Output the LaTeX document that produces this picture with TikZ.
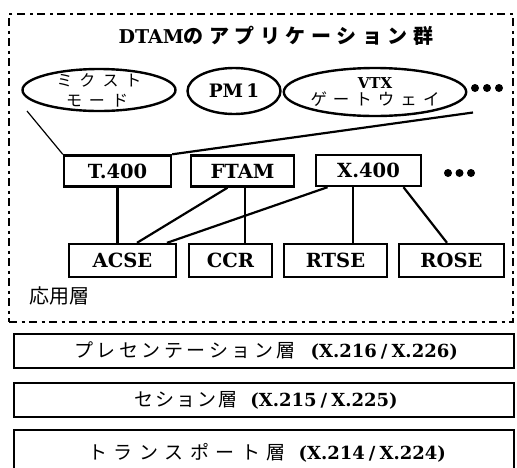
\documentclass[tikz,border=0pt]{standalone}
\usepackage{fontspec}
\usetikzlibrary{shapes.geometric,calc}
\newfontfamily\lat{DejaVu Serif}
\newfontfamily\jp{Noto Sans CJK JP}
\makeatletter
\def\jsp@end{\jsp@end}
\newcommand\jsp[2]{\def\jsp@k{#1}\jsp@a#2\jsp@end}
\def\jsp@a#1{#1\jsp@b}
\def\jsp@b#1{\ifx\jsp@end#1\else\kern\jsp@k\relax#1\expandafter\jsp@b\fi}
\makeatother
\newcommand\latf[1]{\lat\bfseries\fontsize{#1}{#1}\selectfont}
\newcommand\jpf[2]{\jp\fontsize{#1}{#2}\selectfont}
\newcommand\slsh{\kern4pt/\kern4pt}
\begin{document}
\begin{tikzpicture}[x=1pt,y=-1pt,
  line width=2.2pt,
  frame/.style={draw, line width=2.6pt, dash pattern=on 8pt off 4.5pt on 3pt off 4.5pt, minimum width=504pt, minimum height=308pt, inner sep=0pt},
  box/.style={draw, line width=2.4pt, inner sep=0pt, minimum height=31pt, font=\latf{19.5}},
  lowbox/.style={draw, line width=2.4pt, inner sep=0pt, minimum height=33pt, font=\latf{19.5}},
  oval/.style={draw, ellipse, line width=2.4pt, inner sep=0pt, align=center},
  layer/.style={draw, line width=2.4pt, inner sep=0pt, minimum width=500pt},
  conn/.style={line width=2.2pt},
  thin/.style={line width=1.2pt},
  dotmark/.style={fill=black},
  jlabel/.style={inner sep=0pt}
]
\useasboundingbox (0,0) rectangle (517,467);

% application layer frame
\node[frame] (app) at (261,168) {};
\node[inner sep=0pt] (title) at (276,36) {\latf{19}DTAM\jpf{20}{20}\jsp{5.5pt}{のアプリケーション群}};

% applications
\node[oval, minimum width=153pt, minimum height=42pt] (mix) at (99,90) {};
\node[jlabel] (mixA) at (99,80) {\jpf{16}{16}\jsp{7pt}{ミクスト}};
\node[jlabel] (mixB) at (97,101) {\jpf{16}{16}\jsp{7pt}{モード}};
\node[oval, minimum width=93pt, minimum height=46pt] (pm) at (234,91) {\latf{18.5}PM\,1};
\node[oval, minimum width=158pt, minimum height=48pt] (vtx) at (375,92)
  {\latf{15}VTX\\[3pt]\jpf{16.5}{19}\jsp{6pt}{ゲートウェイ}};
\fill[dotmark] (475,88) circle (4) (487,88) circle (4) (499,88) circle (4);

% upper boxes
\node[box, minimum width=107pt] (t400) at (117.5,171) {T.400};
\node[box, minimum width=103pt] (ftam) at (242.5,171) {FTAM};
\node[box, minimum width=105pt] (x400) at (368.5,170.5) {X.400};
\fill[dotmark] (448,173) circle (4) (459.5,173) circle (4) (471,173) circle (4);

% lower boxes
\node[lowbox, minimum width=107pt] (acse) at (122.5,260.5) {ACSE};
\node[lowbox, minimum width=83pt] (ccr) at (230.5,260.5) {CCR};
\node[lowbox, minimum width=103pt] (rtse) at (335.5,260.5) {RTSE};
\node[lowbox, minimum width=105pt] (rose) at (451.5,260.5) {ROSE};

\node[anchor=west, inner sep=0pt] (ouyou) at (28,296) {\jpf{20}{20}応用層};

% connectors
\coordinate (mixend) at (27,111);
\coordinate (vtxend) at (473,112.5);
\draw[thin] (mixend) -- (t400.north west);
\draw[conn] (t400.north east) -- (vtxend);
\draw[conn] (t400.south) -- (t400.south |- acse.north);
\draw[conn] ($(ftam.south)+(-15,0)$) -- ($(acse.north)+(14.5,0)$);
\draw[conn] ($(ftam.south)+(2.5,0)$) -- ($(ccr.north)+(14.5,0)$);
\draw[conn] ($(x400.south)+(-41,0)$) -- ($(acse.north)+(44.5,0)$);
\draw[conn] ($(x400.south)+(-15.5,0)$) -- ($(rtse.north)+(17.5,0)$);
\draw[conn] ($(x400.south)+(35,0)$) -- ($(rose.north)+(-4.5,0)$);

% lower layers
\node[layer, minimum height=34pt] (pres) at (264,351)
  {\hspace*{4pt}\jpf{19}{19}\jsp{3.5pt}{プレセンテーション層}\hspace{15pt}\latf{18}(X.216\slsh X.226)};
\node[layer, minimum height=34pt] (sess) at (264,400)
  {\hspace*{4pt}\jpf{19}{19}\jsp{2pt}{セション層}\hspace{13pt}\latf{18}(X.215\slsh X.225)};
\node[layer, minimum height=46pt] (trans) at (264,453)
  {\hspace*{6pt}\jpf{19}{19}\jsp{6.5pt}{トランスポート層}\hspace{13pt}\latf{18}(X.214\slsh X.224)};
\end{tikzpicture}
\end{document}
